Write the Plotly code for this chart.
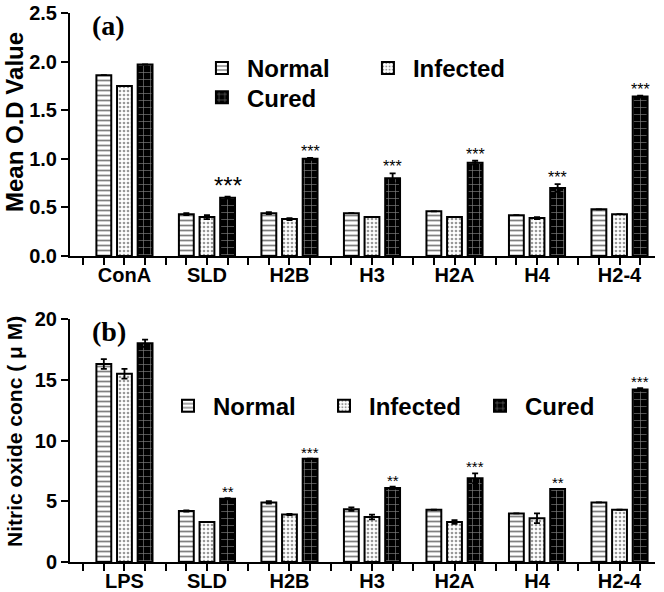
import plotly.graph_objects as go

groups_a = ["ConA", "SLD", "H2B", "H3", "H2A", "H4", "H2-4"]
groups_b = ["LPS", "SLD", "H2B", "H3", "H2A", "H4", "H2-4"]
series = ["Normal", "Infected", "Cured"]

od_normal = [1.86, 0.43, 0.44, 0.44, 0.46, 0.42, 0.48]
od_infected = [1.75, 0.40, 0.38, 0.40, 0.40, 0.39, 0.43]
od_cured = [1.97, 0.60, 1.00, 0.80, 0.96, 0.70, 1.64]
od_err_normal = [0.0, 0.01, 0.01, 0.0, 0.0, 0.0, 0.0]
od_err_infected = [0.0, 0.02, 0.01, 0.0, 0.0, 0.01, 0.0]
od_err_cured = [0.0, 0.01, 0.01, 0.05, 0.02, 0.04, 0.01]
od_sig = ["", "***", "***", "***", "***", "***", "***"]

no_normal = [16.3, 4.2, 4.9, 4.35, 4.3, 4.0, 4.9]
no_infected = [15.5, 3.3, 3.9, 3.7, 3.3, 3.6, 4.3]
no_cured = [18.0, 5.2, 8.5, 6.1, 6.9, 6.0, 14.2]
no_err_normal = [0.4, 0.05, 0.1, 0.15, 0.0, 0.0, 0.0]
no_err_infected = [0.4, 0.0, 0.05, 0.2, 0.15, 0.4, 0.0]
no_err_cured = [0.3, 0.05, 0.0, 0.1, 0.4, 0.0, 0.1]
no_sig = ["", "**", "***", "**", "***", "**", "***"]

FONT = "Liberation Sans, Arial, sans-serif"
SERIF = "Liberation Serif, Times New Roman, serif"
patterns = [
    dict(shape="-", bgcolor="white", fgcolor="black", size=5, solidity=0.35),
    dict(shape=".", bgcolor="white", fgcolor="#333333", size=4, solidity=0.35),
    dict(shape="+", bgcolor="black", fgcolor="white", size=7, solidity=0.18),
]

fig = go.Figure()

def add_panel(vals, errs, xa, ya, legends, ngroups):
    xs = list(range(ngroups))
    for name, v, e, p, lg in zip(series, vals, errs, patterns, legends):
        fig.add_trace(go.Bar(
            x=xs, y=v, name=name, xaxis=xa, yaxis=ya, legend=lg,
            marker=dict(color="white", pattern=p, line=dict(color="black", width=2)),
            error_y=dict(type="data", array=e, visible=True, color="black", thickness=1.8, width=3),
        ))

add_panel([od_normal, od_infected, od_cured],
          [od_err_normal, od_err_infected, od_err_cured], "x", "y",
          ["legend", "legend", "legend3"], len(groups_a))
add_panel([no_normal, no_infected, no_cured],
          [no_err_normal, no_err_infected, no_err_cured], "x2", "y2",
          ["legend2", "legend2", "legend2"], len(groups_b))

annotations = []
for i, s in enumerate(od_sig):
    if s:
        annotations.append(dict(x=i + 0.25, y=od_cured[i] + od_err_cured[i], xref="x", yref="y",
                                text=s, showarrow=False, yanchor="bottom", yshift=-4,
                                font=dict(family=FONT, size=24 if i == 1 else 16, color="black")))
for i, s in enumerate(no_sig):
    if s:
        annotations.append(dict(x=i + 0.25, y=no_cured[i] + no_err_cured[i], xref="x2", yref="y2",
                                text=s, showarrow=False, yanchor="bottom", yshift=-4,
                                font=dict(family=FONT, size=15, color="black")))
annotations.append(dict(x=0.035, y=1.01, xref="paper", yref="paper", text="<b>(a)</b>", showarrow=False,
                        xanchor="left", yanchor="top", font=dict(family=SERIF, size=28, color="black")))
annotations.append(dict(x=0.035, y=0.4526, xref="paper", yref="paper", text="<b>(b)</b>", showarrow=False,
                        xanchor="left", yanchor="top", font=dict(family=SERIF, size=28, color="black")))
annotations.append(dict(x=-0.094, y=0.8015, xref="paper", yref="paper", text="Mean O.D Value", textangle=-90,
                        showarrow=False, xanchor="center", yanchor="middle",
                        font=dict(family=FONT, size=24, color="black", weight="bold")))
annotations.append(dict(x=-0.094, y=0.237, xref="paper", yref="paper", text="Nitric oxide conc ( μ M)", textangle=-90,
                        showarrow=False, xanchor="center", yanchor="middle",
                        font=dict(family=FONT, size=21, color="black", weight="bold")))

def tickset(names):
    vals, texts = [], []
    k = -2
    while k / 4 <= len(names) - 0.5 + 1e-9:
        vals.append(k / 4)
        texts.append(names[k // 4] if k % 4 == 0 else "")
        k += 1
    return vals, texts

tva, tta = tickset(groups_a)
tvb, ttb = tickset(groups_b)

xcommon = dict(range=[-0.66, 6.43], showline=True, linecolor="black", linewidth=2, automargin=False,
               ticks="outside", ticklen=7, tickwidth=2, tickcolor="black", showgrid=False, zeroline=False,
               tickmode="array", ticklabelstandoff=-7, ticklabeloverflow="allow",
               tickfont=dict(family=FONT, size=20, color="black", weight="bold"))
ycommon = dict(showline=True, linecolor="black", linewidth=2, ticks="outside", ticklen=7, tickwidth=2,
               tickcolor="black", showgrid=False, zeroline=False, automargin=False, ticklabeloverflow="allow",
               tickfont=dict(family=FONT, size=20, color="black", weight="bold"))

legfont = dict(family=FONT, size=24, color="black", weight="bold")

fig.update_layout(
    width=664, height=592,
    margin=dict(l=70, r=9, t=13, b=30, autoexpand=False),
    paper_bgcolor="white", plot_bgcolor="white",
    barmode="group", bargap=0.25, bargroupgap=0.28,
    xaxis=dict(**xcommon, domain=[0, 1], anchor="y", tickvals=tva, ticktext=tta),
    yaxis=dict(**ycommon, domain=[0.5574, 1], anchor="x", range=[0, 2.5], dtick=0.5, tickformat=".1f"),
    xaxis2=dict(**xcommon, domain=[0, 1], anchor="y2", tickvals=tvb, ticktext=ttb),
    yaxis2=dict(**ycommon, domain=[0, 0.4426], anchor="x2", range=[0, 20], dtick=5),
    legend=dict(orientation="h", x=0.217, y=0.94, xanchor="left", yanchor="top", entrywidth=111, entrywidthmode="pixels",
                font=legfont, bgcolor="rgba(0,0,0,0)", itemwidth=40),
    legend3=dict(orientation="h", x=0.217, y=0.887, xanchor="left", yanchor="top", entrywidth=111, entrywidthmode="pixels",
                 font=legfont, bgcolor="rgba(0,0,0,0)", itemwidth=40),
    legend2=dict(orientation="h", x=0.159, y=0.325, xanchor="left", yanchor="top", entrywidth=101, entrywidthmode="pixels",
                 font=legfont, bgcolor="rgba(0,0,0,0)", itemwidth=40),
    annotations=annotations,
    showlegend=True,
)

# remove the default 8px page margin so the figure sits at the window's top-left corner
fig.write_html("out.html", config={"displayModeBar": False},
               post_script="document.body.style.margin='0';")
